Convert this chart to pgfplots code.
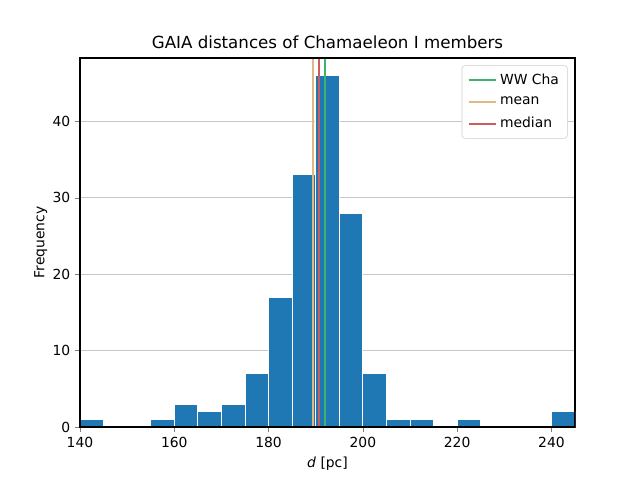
\documentclass[border=0pt]{standalone}
\usepackage{pgfplots}
\pgfplotsset{compat=1.18}
\usepackage{fontspec}
\setmainfont{DejaVu Sans}
\definecolor{mplblue}{RGB}{31,119,180}
\definecolor{wwgreen}{RGB}{60,179,113}
\definecolor{meanorange}{RGB}{222,184,135}
\definecolor{medianred}{RGB}{205,92,92}
\begin{document}
\begin{tikzpicture}
\begin{axis}[
  width=356.4pt, height=265.7pt, scale only axis,
  xmin=140, xmax=245, ymin=0, ymax=48.3,
  xtick={140,160,180,200,220,240},
  ytick={0,10,20,30,40},
  tick align=outside, tick pos=left,
  major tick length=3.5pt,
  ymajorgrids, grid style={gray!45, line width=0.6pt},
  /pgf/number format/assume math mode=true,
  ticklabel style={font=\fontsize{10}{12}\selectfont},
  label style={font=\fontsize{10}{12}\selectfont},
  ylabel style={yshift=-3pt},
  title style={font=\fontsize{12}{14}\selectfont, yshift=-3pt},
  title={GAIA distances of Chamaeleon I members},
  xlabel={\textit{d} [pc]},
  ylabel={Frequency},
  axis line style={line width=0.8pt},
  legend style={at={(0.985,0.98)}, anchor=north east, font=\fontsize{10}{12}\selectfont,
    draw=gray!40, rounded corners=2pt, inner sep=4pt, row sep=3.5pt},
  legend cell align=left,
  legend image code/.code={\draw[#1, line width=1.5pt] (0cm,0cm) -- (0.7cm,0cm);},
]
\addplot[ybar, bar width=5, bar shift=0, fill=mplblue, draw=white, line width=0.6pt, forget plot] coordinates {
(142.5,1) (157.5,1) (162.5,3) (167.5,2) (172.5,3) (177.5,7) (182.5,17)
(187.5,33) (192.5,46) (197.5,28) (202.5,7) (207.5,1) (212.5,1) (222.5,1)
(242.5,2)};
\addplot[wwgreen, line width=1.5pt] coordinates {(192.0,0) (192.0,48.3)};
\addlegendentry{WW Cha}
\addplot[meanorange, line width=1.5pt] coordinates {(189.5,0) (189.5,48.3)};
\addlegendentry{mean}
\addplot[medianred, line width=1.5pt] coordinates {(190.75,0) (190.75,48.3)};
\addlegendentry{median}
\draw[line width=0.8pt] (rel axis cs:0,0) rectangle (rel axis cs:1,1);
\end{axis}
\useasboundingbox ([xshift=-57.6pt,yshift=-38.16pt]current axis.south west) rectangle ([xshift=46.8pt,yshift=41.76pt]current axis.north east);
\end{tikzpicture}
\end{document}
